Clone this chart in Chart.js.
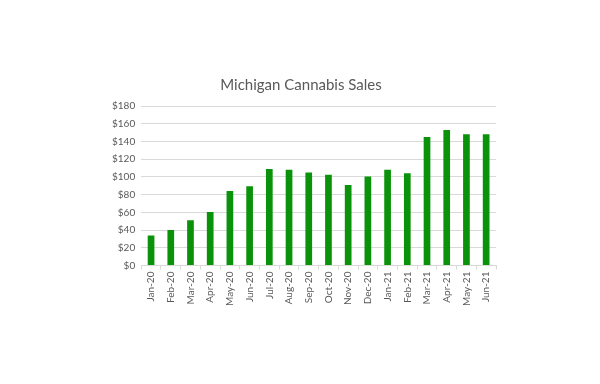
<!DOCTYPE html>
<html lang="en">
<head>
  <meta charset="UTF-8">
  <title>Michigan Cannabis Sales</title>
  <style>
    body { margin: 0; background: #fff; }
    #wrap { width: 600px; height: 384px; }
  </style>
</head>
<body>
  <div id="wrap"><canvas id="myChart" width="600" height="384"></canvas></div>

  <script src="https://cdn.jsdelivr.net/npm/chart.js"></script>
  <script>
    const months = ['Jan-20', 'Feb-20', 'Mar-20', 'Apr-20', 'May-20', 'Jun-20', 'Jul-20', 'Aug-20', 'Sep-20',
                    'Oct-20', 'Nov-20', 'Dec-20', 'Jan-21', 'Feb-21', 'Mar-21', 'Apr-21', 'May-21', 'Jun-21'];
    const sales = [34, 40, 51, 60.5, 84, 89.5, 109, 108, 105, 102.5, 91, 100.5, 108, 104, 145, 153, 148, 148];
    const yTicks = [0, 20, 40, 60, 80, 100, 120, 140, 160, 180];

    const ctx = document.getElementById('myChart').getContext('2d');
    new Chart(ctx, {
      type: 'bar',
      data: {
        labels: months,
        datasets: [{ label: 'Sales', data: sales, backgroundColor: '#0a930a', barPercentage: 0.34, categoryPercentage: 1 }]
      },
      options: {
        responsive: false,
        animation: false,
        layout: { padding: { left: 106, right: 104, top: 76, bottom: 76 } },
        plugins: {
          legend: { display: false },
          tooltip: { enabled: false },
          title: {
            display: true,
            text: 'Michigan Cannabis Sales',
            color: '#595959',
            font: { family: 'Lato', size: 15, weight: 'normal' },
            padding: { top: 0, bottom: 12 }
          }
        },
        scales: {
          x: {
            grid: { display: true, drawOnChartArea: false, color: '#d9d9d9', tickLength: 4, offset: true },
            border: { color: '#d9d9d9' },
            ticks: { color: '#595959', font: { family: 'Lato', size: 10 }, minRotation: 90, maxRotation: 90, padding: 2 }
          },
          y: {
            min: 0, max: 180,
            afterBuildTicks: axis => { axis.ticks = yTicks.map(v => ({ value: v })); },
            grid: { color: '#d9d9d9', drawTicks: false },
            border: { display: false },
            ticks: { color: '#595959', font: { family: 'Lato', size: 10 }, padding: 6, callback: v => '$' + v }
          }
        }
      }
    });
  </script>
</body>
</html>
